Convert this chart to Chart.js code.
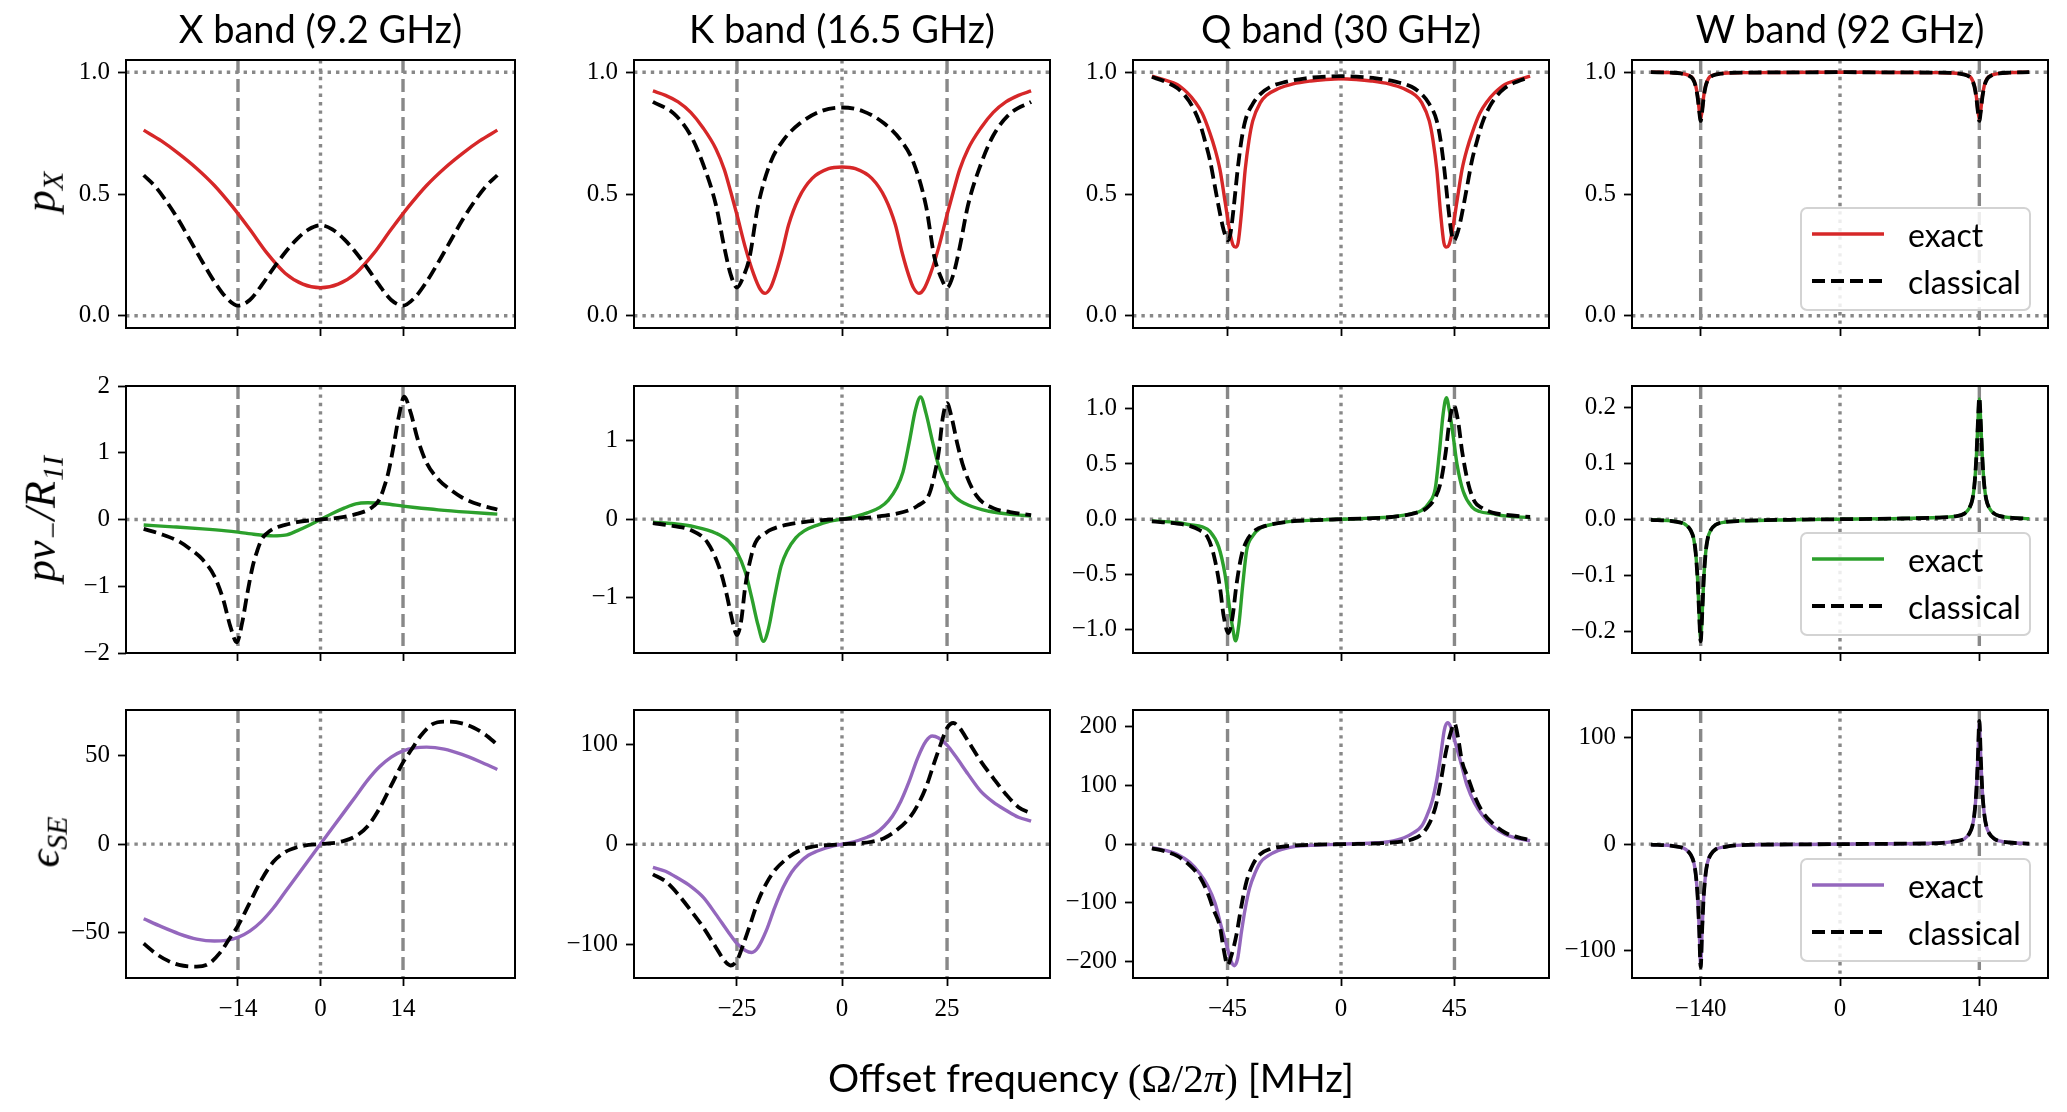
<!DOCTYPE html>
<html>
<head>
<meta charset="utf-8">
<script src="https://cdn.jsdelivr.net/npm/chart.js@4.4.0/dist/chart.umd.min.js"></script>
<style>
  body { margin: 0; background: #fff; width: 2067px; height: 1112px; position: relative; overflow: hidden; }
  canvas { position: absolute; }
  .title { position: absolute; font-family: Lato, sans-serif; font-size: 38px; color: #000; transform: translate(-50%, -50%); white-space: nowrap; }
  .ylab { position: absolute; font-family: "Liberation Serif", serif; font-style: italic; font-size: 44px; color: #000; transform: translate(-50%, -50%) rotate(-90deg); white-space: nowrap; }
  .ylab sub { font-size: 30px; vertical-align: -0.25em; }
  .xlab { position: absolute; left: 1091px; top: 1078px; transform: translate(-50%, -50%); font-family: Lato, sans-serif; font-size: 39px; white-space: nowrap; }
  .xlab .m { font-family: "Liberation Serif", serif; font-size: 41px; }
  .legend { position: absolute; left: 1800px; width: 227px; height: 100px; border: 2px solid #d3d3d3; border-radius: 7px; background: rgba(255,255,255,0.85); font-family: Lato, sans-serif; font-size: 32px; }
  .legend .row { position: absolute; left: 10px; height: 40px; display: flex; align-items: center; transform: translateY(-50%); }
  .legend .row span { margin-left: 24px; }
</style>
</head>
<body>
<script>
// ---- X band (9.2 GHz) ----
const pxX_exact_x = [-30,-27,-24,-21,-18,-15,-12,-9,-6,-3,0,3,6,9,12,15,18,21,24,27,30];
const pxX_exact_y = [0.762,0.718,0.665,0.605,0.535,0.45,0.355,0.255,0.175,0.13,0.115,0.13,0.175,0.255,0.355,0.45,0.535,0.605,0.665,0.718,0.762];
const pxX_class_x = [-30,-28,-26,-24,-22,-20,-18,-16,-14,-12,-10,-8,-6,-4,-2,0,2,4,6,8,10,12,14,16,18,20,22,24,26,28,30];
const pxX_class_y = [0.577,0.53,0.465,0.39,0.305,0.22,0.14,0.075,0.042,0.065,0.125,0.195,0.26,0.315,0.355,0.372,0.355,0.315,0.26,0.195,0.125,0.065,0.042,0.075,0.14,0.22,0.305,0.39,0.465,0.53,0.577];

const pvX_exact_x = [-30,-25,-20,-16,-14,-11,-8,-6,-4,-2,0,2,4,6,8,11,14,16,20,25,30];
const pvX_exact_y = [-0.083,-0.11,-0.14,-0.17,-0.19,-0.225,-0.245,-0.235,-0.17,-0.09,0,0.09,0.17,0.235,0.25,0.235,0.2,0.18,0.145,0.11,0.08];
const pvX_class_x = [-30,-27,-24,-22,-20,-18,-16.5,-15.3,-14.2,-13.3,-12.4,-11.5,-10.7,-10,-9,-8,-6,-4,-2,0,2,4,6,8,9,10,10.7,11.5,12.4,13.3,14.2,15.3,16.5,18,20,22,24,27,30];
const pvX_class_y = [-0.14,-0.22,-0.33,-0.45,-0.6,-0.85,-1.2,-1.6,-1.84,-1.55,-1.1,-0.7,-0.46,-0.3,-0.2,-0.14,-0.08,-0.04,-0.015,0,0.015,0.04,0.08,0.14,0.2,0.3,0.46,0.7,1.1,1.55,1.84,1.6,1.2,0.85,0.6,0.45,0.33,0.22,0.15];

const epsX_exact_x = [-30,-27,-24,-21,-18,-16,-14,-12,-10,-8,-6,-4,-2,0,2,4,6,8,10,12,14,16,18,21,24,27,30];
const epsX_exact_y = [-42,-46.5,-50.5,-53.5,-54.6,-54.2,-52.5,-49,-43.5,-36,-27,-18,-9,0,9,18,27,36,43.5,49,52.5,54.2,54.6,53.5,50.5,46.5,42];
const epsX_class_x = [-30,-28,-26,-24,-21,-19,-17,-15.5,-14,-12,-10,-8,-6,-4,-2,0,2,4,6,8,10,12,14,15.5,17,19,21,24,26,28,30];
const epsX_class_y = [-56,-61.5,-65.5,-68,-69,-67.5,-61,-53.5,-46,-33,-20,-10,-4.5,-1.8,-0.5,0,0.5,1.8,4.5,10,20,33,46,53.5,61,67.5,69,68,65.5,61.5,56];

// ---- K band (16.5 GHz) ----
const pxK_exact_x = [-45,-42,-39,-36,-33,-30,-28,-26.5,-25,-23,-21,-19.5,-18.3,-17,-15.9,-14.3,-12.7,-10.3,-7.1,-3.2,0,3.2,7.1,10.3,12.7,14.3,15.9,17,18.3,19.5,21,23,25,26.5,28,30,33,36,39,42,45];
const pxK_exact_y = [0.923,0.905,0.878,0.835,0.77,0.685,0.6,0.51,0.415,0.28,0.17,0.11,0.092,0.115,0.165,0.26,0.374,0.483,0.564,0.604,0.611,0.604,0.564,0.483,0.374,0.26,0.165,0.115,0.092,0.11,0.17,0.28,0.415,0.51,0.6,0.685,0.77,0.835,0.878,0.905,0.923];
const pxK_class_x = [-45,-40,-36,-33,-30,-28,-26.5,-25,-23.5,-22,-20,-17,-14,-10,-5,0,5,10,14,17,20,22,23.5,25,26.5,28,30,33,36,40,45];
const pxK_class_y = [0.878,0.83,0.74,0.62,0.455,0.28,0.17,0.116,0.16,0.24,0.45,0.63,0.72,0.79,0.84,0.855,0.84,0.79,0.72,0.63,0.45,0.24,0.16,0.116,0.17,0.28,0.455,0.62,0.74,0.83,0.878];

const pvK_exact_x = [-45,-40,-35,-30,-27,-25,-23,-21.5,-20,-18.7,-17.5,-16,-14.5,-13,-11,-9,-6,-3,0,3,6,9,11,13,14.5,16,17.5,18.7,20,21.5,23,25,27,30,35,40,45];
const pvK_exact_y = [-0.04,-0.06,-0.1,-0.18,-0.28,-0.42,-0.68,-1.0,-1.35,-1.56,-1.4,-0.98,-0.6,-0.4,-0.24,-0.15,-0.08,-0.03,0,0.03,0.08,0.15,0.24,0.4,0.6,0.98,1.4,1.56,1.35,1.0,0.68,0.42,0.28,0.18,0.1,0.06,0.04];
const pvK_class_x = [-45,-40,-36,-32,-29,-27.5,-26,-25,-24,-23,-21.5,-20.6,-18,-16.7,-13,-8,-4,0,4,8,13,16.7,18,20.6,21.5,23,24,25,26,27.5,29,32,36,40,45];
const pvK_class_y = [-0.05,-0.09,-0.14,-0.3,-0.65,-0.95,-1.32,-1.48,-1.3,-0.85,-0.45,-0.3,-0.17,-0.13,-0.07,-0.03,-0.01,0,0.01,0.03,0.07,0.13,0.17,0.3,0.45,0.85,1.3,1.48,1.32,0.95,0.65,0.3,0.14,0.09,0.05];

const epsK_exact_x = [-45,-42,-39,-36,-33,-30,-27,-25,-23,-21.5,-20,-18,-16,-14,-12,-10,-8,-6,-4,-2,0,2,4,6,8,10,12,14,16,18,20,21.5,23,25,27,30,33,36,39,42,45];
const epsK_exact_y = [-23,-27,-34,-42,-53,-70,-88,-99,-106,-108,-103,-86,-63,-43,-28,-18,-11,-7,-4,-1.5,0,1.5,4,7,11,18,28,43,63,86,103,108,106,99,88,70,53,42,34,27,23];
const epsK_class_x = [-45,-42,-39,-36,-33,-30,-28,-26.5,-25,-23.5,-22,-20,-18,-16,-13,-10,-7,-4,0,4,7,10,13,16,18,20,22,23.5,25,26.5,28,30,33,36,39,42,45];
const epsK_class_y = [-30,-37,-50,-66,-83,-103,-116,-121,-116,-100,-82,-57,-39,-26,-14,-6,-2.5,-1,0,1,2.5,6,14,26,39,57,82,100,116,121,116,103,83,66,50,37,31];

// ---- Q band (30 GHz) ----
const pxQ_exact_x = [-75,-70,-65,-61,-58,-55,-52,-50,-48,-46,-44,-42.8,-41.8,-40.8,-39.5,-38,-36.5,-35,-32,-29.5,-25,-19,-12,-6,0,6,12,19,25,29.5,32,35,36.5,38,39.5,40.8,41.8,42.8,44,46,48,50,52,55,58,61,65,70,75];
const pxQ_exact_y = [0.984,0.968,0.95,0.916,0.88,0.83,0.75,0.685,0.6,0.47,0.34,0.29,0.282,0.3,0.42,0.6,0.72,0.8,0.875,0.905,0.932,0.952,0.964,0.97,0.973,0.97,0.964,0.952,0.932,0.905,0.875,0.8,0.72,0.6,0.42,0.3,0.282,0.29,0.34,0.47,0.6,0.685,0.75,0.83,0.88,0.916,0.95,0.968,0.984];
const pxQ_class_x = [-75,-70,-65,-62,-59,-56,-54,-52,-50,-48,-46.5,-45.3,-44.7,-43.8,-42.5,-41,-39.5,-38,-35,-32,-28,-22,-14,-6,0,6,14,22,28,32,35,38,39.5,41,42.5,43.8,44.7,45.3,46.5,48,50,52,54,56,59,62,65,70,75];
const pxQ_class_y = [0.98,0.962,0.935,0.905,0.86,0.79,0.72,0.64,0.53,0.42,0.35,0.315,0.31,0.34,0.45,0.6,0.72,0.8,0.87,0.91,0.94,0.96,0.975,0.982,0.984,0.982,0.975,0.96,0.94,0.91,0.87,0.8,0.72,0.6,0.45,0.34,0.31,0.315,0.35,0.42,0.53,0.64,0.72,0.79,0.86,0.905,0.935,0.962,0.98];

const pvQ_exact_x = [-75,-65,-60,-55,-52,-48.5,-46,-44.5,-43,-41.8,-40.5,-39,-37.4,-35,-32,-28,-20,-10,0,10,20,28,32,35,37.4,39,40.5,41.8,43,44.5,46,48.5,52,55,60,65,75];
const pvQ_exact_y = [-0.015,-0.03,-0.05,-0.07,-0.11,-0.25,-0.5,-0.75,-0.98,-1.1,-0.95,-0.6,-0.28,-0.15,-0.08,-0.05,-0.02,-0.008,0,0.008,0.02,0.05,0.08,0.15,0.28,0.6,0.95,1.1,0.98,0.75,0.5,0.25,0.11,0.07,0.05,0.03,0.015];
const pvQ_class_x = [-75,-65,-60,-56,-53,-50.5,-48,-46.5,-44.7,-43,-41.5,-39.5,-37.5,-34,-30,-20,-10,0,10,20,30,34,37.5,39.5,41.5,43,44.7,46.5,48,50.5,53,56,60,65,75];
const pvQ_class_y = [-0.02,-0.04,-0.06,-0.1,-0.16,-0.32,-0.62,-0.88,-1.03,-0.88,-0.6,-0.33,-0.2,-0.1,-0.06,-0.02,-0.008,0,0.008,0.02,0.06,0.1,0.2,0.33,0.6,0.88,1.03,0.88,0.62,0.32,0.16,0.1,0.06,0.04,0.02];

const epsQ_exact_x = [-75,-70,-65,-60,-56,-53,-50,-47.5,-45.5,-43.5,-42.3,-41,-39.5,-38,-36.2,-34,-32,-29,-25,-19,-12,-5,0,5,12,19,25,29,32,34,36.2,38,39.5,41,42.3,43.5,45.5,47.5,50,53,56,60,65,70,75];
const epsQ_exact_y = [-6,-10,-17,-31,-50,-70,-100,-140,-170,-200,-207,-195,-150,-110,-74,-48,-31,-20,-11,-4.5,-2,-0.8,0,0.8,2,4.5,11,20,31,48,74,110,150,195,207,200,170,140,100,70,50,31,17,10,6];
const epsQ_class_x = [-75,-70,-65,-60,-56,-53,-50.5,-48,-46.5,-45,-43.5,-41.5,-39.5,-37.5,-35,-32,-28,-22,-15,-5,0,5,15,22,28,32,35,37.5,39.5,41.5,43.5,45,46.5,48,50.5,53,56,60,65,70,75];
const epsQ_class_y = [-7,-12,-20,-36,-56,-82,-112,-141,-180,-206,-190,-155,-105,-64,-35,-17,-8,-3.5,-1.5,-0.3,0,0.3,1.5,3.5,8,17,35,64,105,155,190,206,180,141,112,82,56,36,20,12,7];

// ---- W band (92 GHz) ----
const pxW_x = [-190,-170,-160,-152,-148,-145,-143,-141.5,-140,-138.5,-137,-135,-132,-128,-120,-100,-50,0,50,100,120,128,132,135,137,138.5,140,141.5,143,145,148,152,160,170,190];
const pxW_exact_y = [1.0,0.998,0.995,0.987,0.975,0.945,0.9,0.845,0.808,0.845,0.9,0.945,0.975,0.987,0.994,0.998,0.999,1.0,0.999,0.998,0.994,0.987,0.975,0.945,0.9,0.845,0.808,0.845,0.9,0.945,0.975,0.987,0.995,0.998,1.0];
const pxW_class_y = [1.0,0.998,0.995,0.986,0.973,0.942,0.895,0.84,0.8,0.84,0.895,0.942,0.973,0.986,0.994,0.998,0.999,1.0,0.999,0.998,0.994,0.986,0.973,0.942,0.895,0.84,0.8,0.84,0.895,0.942,0.973,0.986,0.995,0.998,1.0];

const peakW_x = [-190,-170,-160,-155,-150,-147,-145,-143,-141.5,-140,-138.5,-137,-135,-133,-130,-125,-115,-100,-50,0,50,100,115,125,130,133,135,137,138.5,140,141.5,143,145,147,150,155,160,170,190];
const pvW_exact_y = [-0.001,-0.003,-0.006,-0.01,-0.02,-0.035,-0.06,-0.11,-0.17,-0.215,-0.17,-0.11,-0.06,-0.035,-0.02,-0.01,-0.005,-0.003,-0.001,0,0.001,0.003,0.005,0.01,0.02,0.035,0.06,0.11,0.17,0.215,0.17,0.11,0.06,0.035,0.02,0.01,0.006,0.003,0.001];
const pvW_class_y = [-0.001,-0.003,-0.006,-0.01,-0.02,-0.035,-0.06,-0.11,-0.17,-0.218,-0.17,-0.11,-0.06,-0.035,-0.02,-0.01,-0.005,-0.003,-0.001,0,0.001,0.003,0.005,0.01,0.02,0.035,0.06,0.11,0.17,0.218,0.17,0.11,0.06,0.035,0.02,0.01,0.006,0.003,0.001];
const epsW_exact_y = [-0.5,-1.5,-3,-5,-10,-17,-28,-50,-80,-113,-80,-50,-28,-17,-10,-5,-2.5,-1,-0.3,0,0.3,1,2.5,5,10,17,28,50,80,113,80,50,28,17,10,5,3,1.5,0.5];
const epsW_class_y = [-0.5,-1.5,-3,-5,-10,-17,-28,-50,-80,-116,-80,-50,-28,-17,-10,-5,-2.5,-1,-0.3,0,0.3,1,2.5,5,10,17,28,50,80,116,80,50,28,17,10,5,3,1.5,0.5];

// ---- axes ----
const bandTitles = ['X band (9.2 GHz)', 'K band (16.5 GHz)', 'Q band (30 GHz)', 'W band (92 GHz)'];
const resonance = [14, 25, 45, 140];
const xLimit = [33, 49.5, 82.5, 209];
const xTicks = [[-14, 0, 14], [-25, 0, 25], [-45, 0, 45], [-140, 0, 140]];
const yLimits = [
  [[-0.05, 1.05], [-0.05, 1.05], [-0.05, 1.05], [-0.05, 1.05]],
  [[-2, 2], [-1.71, 1.70], [-1.21, 1.205], [-0.239, 0.238]],
  [[-75.4, 75.5], [-133.5, 134], [-228, 228.7], [-126, 126.2]]
];
const yTicks = [
  [[0, 0.5, 1], [0, 0.5, 1], [0, 0.5, 1], [0, 0.5, 1]],
  [[-2, -1, 0, 1, 2], [-1, 0, 1], [-1, -0.5, 0, 0.5, 1], [-0.2, -0.1, 0, 0.1, 0.2]],
  [[-50, 0, 50], [-100, 0, 100], [-200, -100, 0, 100, 200], [-100, 0, 100]]
];
const yDecimals = [[1, 1, 1, 1], [0, 0, 1, 1], [0, 0, 0, 0]];
const rowColors = ['#d62728', '#2ca02c', '#9467bd'];

const series = [
  [[pxX_exact_x, pxX_exact_y, pxX_class_x, pxX_class_y], [pxK_exact_x, pxK_exact_y, pxK_class_x, pxK_class_y],
   [pxQ_exact_x, pxQ_exact_y, pxQ_class_x, pxQ_class_y], [pxW_x, pxW_exact_y, pxW_x, pxW_class_y]],
  [[pvX_exact_x, pvX_exact_y, pvX_class_x, pvX_class_y], [pvK_exact_x, pvK_exact_y, pvK_class_x, pvK_class_y],
   [pvQ_exact_x, pvQ_exact_y, pvQ_class_x, pvQ_class_y], [peakW_x, pvW_exact_y, peakW_x, pvW_class_y]],
  [[epsX_exact_x, epsX_exact_y, epsX_class_x, epsX_class_y], [epsK_exact_x, epsK_exact_y, epsK_class_x, epsK_class_y],
   [epsQ_exact_x, epsQ_exact_y, epsQ_class_x, epsQ_class_y], [peakW_x, epsW_exact_y, peakW_x, epsW_class_y]]
];

// layout (page pixels of each axes box)
const colL = [126, 634, 1133, 1632], colR = [515, 1050, 1549, 2048];
const rowT = [57, 383, 707], rowB = [328, 653, 978];
const PAD = 20, YW = 110, XH = 70;

const fmt = (v, d) => v.toFixed(d).replace('-', '\u2212');
const pts = (xs, ys) => xs.map((x, i) => ({ x: x, y: ys[i] }));

const refLines = {
  id: 'refLines',
  beforeDatasetsDraw(chart, args, opts) {
    const { ctx, chartArea: a, scales: { x, y } } = chart;
    const seg = (x1, y1, x2, y2) => { ctx.beginPath(); ctx.moveTo(x1, y1); ctx.lineTo(x2, y2); ctx.stroke(); };
    ctx.save();
    ctx.beginPath(); ctx.rect(a.left, a.top, a.width, a.height); ctx.clip();
    ctx.strokeStyle = '#888888';
    ctx.lineWidth = 3.4;
    ctx.setLineDash([3.4, 5]);
    opts.hlines.forEach(v => { const py = y.getPixelForValue(v); seg(a.left, py, a.right, py); });
    const p0 = x.getPixelForValue(0);
    seg(p0, a.top, p0, a.bottom);
    ctx.setLineDash([13, 6]);
    opts.vlines.forEach(v => { const px = x.getPixelForValue(v); seg(px, a.top, px, a.bottom); });
    ctx.restore();
  },
  afterDraw(chart) {
    const { ctx, chartArea: a } = chart;
    ctx.save();
    ctx.strokeStyle = '#000';
    ctx.lineWidth = 2;
    ctx.strokeRect(a.left, a.top, a.width, a.height);
    ctx.restore();
  }
};

function makePanel(r, c) {
  const L = colL[c], R = colR[c], T = rowT[r], B = rowB[r];
  const cv = document.createElement('canvas');
  const w = (R - L) + YW + 2 * PAD, h = (B - T) + XH + 2 * PAD;
  cv.width = w; cv.height = h;
  cv.style.left = (L - YW - PAD) + 'px';
  cv.style.top = (T - PAD) + 'px';
  document.body.appendChild(cv);

  const s = series[r][c];
  const tickFont = { family: 'Liberation Serif', size: 25 };
  const axisGrid = { drawOnChartArea: false, drawTicks: true, tickLength: 8, tickColor: '#000', tickWidth: 1.8 };

  new Chart(cv, {
    type: 'line',
    data: {
      datasets: [
        { label: 'classical', data: pts(s[2], s[3]), borderColor: '#000', borderWidth: 3.8, borderDash: [13, 6],
          pointRadius: 0, cubicInterpolationMode: 'monotone', order: 0 },
        { label: 'exact', data: pts(s[0], s[1]), borderColor: rowColors[r], borderWidth: 3.4,
          pointRadius: 0, cubicInterpolationMode: 'monotone', order: 1 }
      ]
    },
    options: {
      responsive: false,
      animation: false,
      layout: { padding: PAD },
      plugins: {
        legend: { display: false },
        tooltip: { enabled: false },
        refLines: { hlines: r === 0 ? [0, 1] : [0], vlines: [-resonance[c], resonance[c]] }
      },
      scales: {
        x: {
          type: 'linear', min: -xLimit[c], max: xLimit[c],
          afterBuildTicks: sc => { sc.ticks = xTicks[c].map(v => ({ value: v })); },
          afterFit: sc => { sc.height = XH; },
          grid: axisGrid, border: { display: false },
          ticks: { font: tickFont, color: r === 2 ? '#000' : 'rgba(0,0,0,0)', padding: 8, autoSkip: false, maxRotation: 0,
                   callback: v => fmt(v, 0) }
        },
        y: {
          type: 'linear', min: yLimits[r][c][0], max: yLimits[r][c][1],
          afterBuildTicks: sc => { sc.ticks = yTicks[r][c].map(v => ({ value: v })); },
          afterFit: sc => { sc.width = YW; },
          grid: axisGrid, border: { display: false },
          ticks: { font: tickFont, color: '#000', padding: 8, autoSkip: false,
                   callback: v => fmt(v, yDecimals[r][c]) }
        }
      }
    },
    plugins: [refLines]
  });
}

for (let r = 0; r < 3; r++) for (let c = 0; c < 4; c++) makePanel(r, c);

// titles
bandTitles.forEach((t, c) => {
  const d = document.createElement('div');
  d.className = 'title';
  d.textContent = t;
  d.style.left = ((colL[c] + colR[c]) / 2) + 'px';
  d.style.top = '28px';
  document.body.appendChild(d);
});

// y labels
const yLabelHtml = ['p<sub>X</sub>', 'pv<sub>\u2212</sub>/R<sub>1I</sub>', '\u03f5<sub>SE</sub>'];
const yLabelPos = [[42, 192], [42, 519], [46, 842]];
yLabelHtml.forEach((t, r) => {
  const d = document.createElement('div');
  d.className = 'ylab';
  d.innerHTML = t;
  d.style.left = yLabelPos[r][0] + 'px';
  d.style.top = yLabelPos[r][1] + 'px';
  document.body.appendChild(d);
});

// legends in the W band column
const legendTop = [207, 532, 858];
legendTop.forEach((top, r) => {
  const d = document.createElement('div');
  d.className = 'legend';
  d.style.top = top + 'px';
  d.innerHTML =
    '<div class="row" style="top:25px"><svg width="72" height="8"><line x1="0" y1="4" x2="72" y2="4" stroke="' + rowColors[r] + '" stroke-width="3.4"/></svg><span>exact</span></div>' +
    '<div class="row" style="top:72px"><svg width="72" height="8"><line x1="0" y1="4" x2="72" y2="4" stroke="#000" stroke-width="3.8" stroke-dasharray="13 6"/></svg><span>classical</span></div>';
  document.body.appendChild(d);
});

// x label
const xl = document.createElement('div');
xl.className = 'xlab';
xl.innerHTML = 'Offset frequency <span class="m">(\u03a9/2<i>\u03c0</i>)</span> [MHz]';
document.body.appendChild(xl);
</script>
</body>
</html>
